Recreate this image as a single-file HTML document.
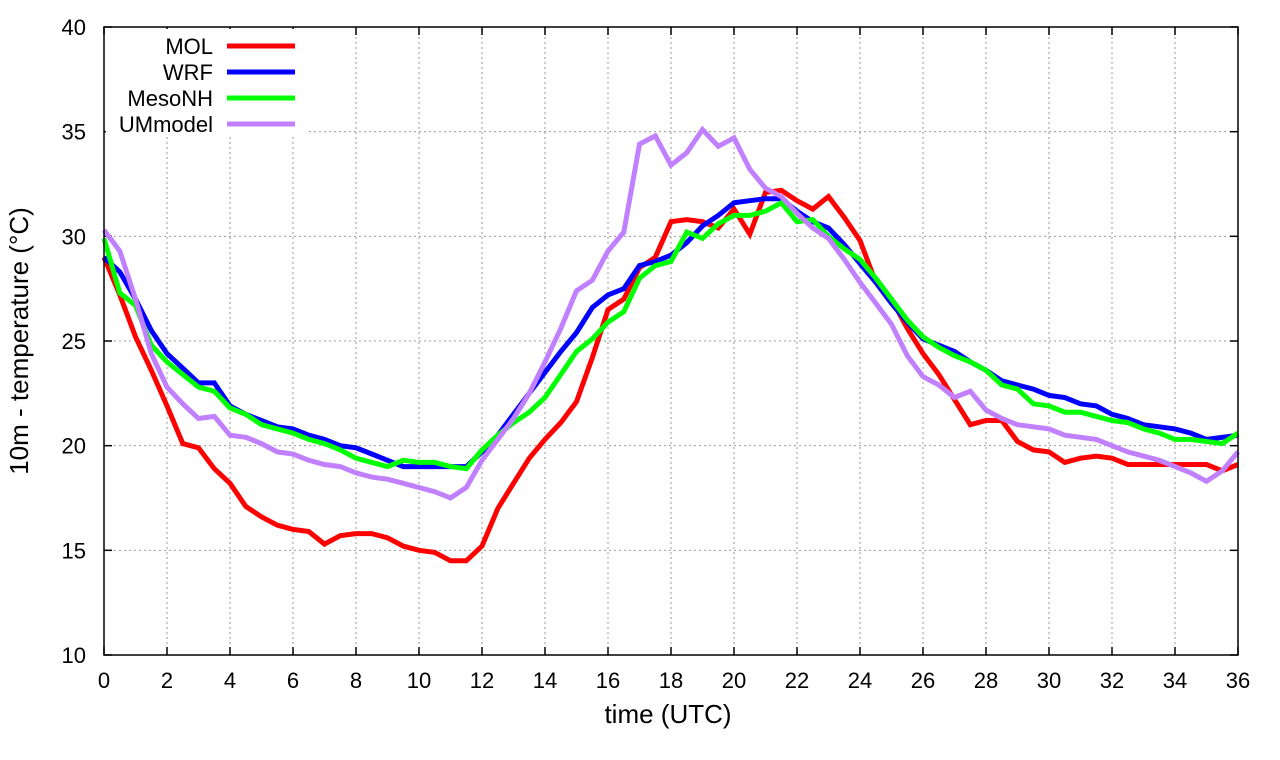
<!DOCTYPE html>
<html><head><meta charset="utf-8"><style>
html,body{margin:0;padding:0;background:#fff;}
svg{display:block;font-family:"Liberation Sans",sans-serif;}
</style></head><body>
<svg id="chart" width="1280" height="760" viewBox="0 0 1280 760" xmlns="http://www.w3.org/2000/svg">
<g id="grid"></g>
<g id="ticks"></g>
<g id="series"></g>
<rect x="104" y="27" width="1134" height="628" fill="none" stroke="#000" stroke-width="1.5"/>
<g id="legend"></g>
<text x="668" y="723" font-size="26" text-anchor="middle">time (UTC)</text>
<text transform="translate(28,341) rotate(-90)" font-size="26" text-anchor="middle">10m - temperature (°C)</text>
</svg>
<script>
const xTicks = [0,2,4,6,8,10,12,14,16,18,20,22,24,26,28,30,32,34,36];
const yTicks = [10,15,20,25,30,35,40];
const seriesNames = ["MOL","WRF","MesoNH","UMmodel"];
const seriesColors = ["#ff0000","#0000ff","#00ff00","#c080ff"];
const times = [];
for (let i = 0; i <= 72; i++) times.push(i / 2);
const mol = [29.0,27.2,25.2,23.6,21.9,20.1,19.9,18.9,18.2,17.1,16.6,16.2,16.0,15.9,15.3,15.7,15.8,15.8,15.6,15.2,15.0,14.9,14.5,14.5,15.2,17.0,18.2,19.4,20.3,21.1,22.1,24.2,26.5,27.0,28.5,29.0,30.7,30.8,30.7,30.4,31.3,30.1,32.1,32.2,31.7,31.3,31.9,30.9,29.8,27.8,27.0,25.6,24.4,23.4,22.2,21.0,21.2,21.2,20.2,19.8,19.7,19.2,19.4,19.5,19.4,19.1,19.1,19.1,19.1,19.1,19.1,18.8,19.1];
const wrf = [29.0,28.3,27.0,25.5,24.4,23.7,23.0,23.0,21.9,21.5,21.2,20.9,20.8,20.5,20.3,20.0,19.9,19.6,19.3,19.0,19.0,19.0,19.0,19.0,19.7,20.5,21.5,22.5,23.5,24.5,25.4,26.6,27.2,27.5,28.6,28.8,29.1,29.7,30.5,31.0,31.6,31.7,31.8,31.8,31.2,30.7,30.4,29.6,28.7,27.8,26.8,25.9,25.1,24.8,24.5,24.0,23.6,23.1,22.9,22.7,22.4,22.3,22.0,21.9,21.5,21.3,21.0,20.9,20.8,20.6,20.3,20.4,20.5];
const mesonh = [29.9,27.3,26.7,24.8,24.0,23.4,22.8,22.6,21.8,21.5,21.0,20.8,20.6,20.3,20.1,19.8,19.4,19.2,19.0,19.3,19.2,19.2,19.0,18.9,19.8,20.5,21.1,21.6,22.3,23.4,24.5,25.1,25.9,26.4,28.0,28.6,28.8,30.2,29.9,30.6,31.0,31.0,31.2,31.6,30.7,30.8,30.0,29.4,28.9,28.0,27.0,26.0,25.2,24.7,24.3,24.0,23.6,22.9,22.7,22.0,21.9,21.6,21.6,21.4,21.2,21.1,20.8,20.6,20.3,20.3,20.2,20.1,20.6];
const ummodel = [30.3,29.3,27.0,24.4,22.8,22.0,21.3,21.4,20.5,20.4,20.1,19.7,19.6,19.3,19.1,19.0,18.7,18.5,18.4,18.2,18.0,17.8,17.5,18.0,19.3,20.3,21.3,22.5,24.0,25.6,27.4,27.9,29.3,30.2,34.4,34.8,33.4,34.0,35.1,34.3,34.7,33.2,32.3,31.9,31.1,30.4,29.9,28.9,27.8,26.8,25.8,24.3,23.3,22.9,22.3,22.6,21.7,21.3,21.0,20.9,20.8,20.5,20.4,20.3,20.0,19.7,19.5,19.3,19.0,18.7,18.3,18.8,19.7];
const allSeries = [mol, wrf, mesonh, ummodel];

const NS = "http://www.w3.org/2000/svg";
const X0 = 104, X1 = 1238, Y0 = 655, Y1 = 27;
const xScale = t => X0 + (t - 0) / 36 * (X1 - X0);
const yScale = v => Y0 - (v - 10) / 30 * (Y0 - Y1);
function mk(tag, attrs, parent) {
  const e = document.createElementNS(NS, tag);
  for (const k in attrs) e.setAttribute(k, attrs[k]);
  parent.appendChild(e);
  return e;
}
const grid = document.getElementById('grid');
const ticks = document.getElementById('ticks');
xTicks.forEach(t => {
  const x = xScale(t);
  if (t > 0 && t < 36) {
    const g = mk('line', {x1:x, x2:x, y1:Y1, y2:Y0, stroke:'#999', 'stroke-width':1, 'stroke-dasharray':'2,3'}, grid);
    
    
  }
  const a = mk('line', {x1:x, x2:x, y1:Y0, y2:Y0-8, stroke:'#000', 'stroke-width':1.5}, ticks);
  
  
  const b = mk('line', {x1:x, x2:x, y1:Y1, y2:Y1+8, stroke:'#000', 'stroke-width':1.5}, ticks);
  
  
  const l = mk('text', {x:x, y:688, 'font-size':22, 'text-anchor':'middle'}, ticks);
  l.textContent = t;
  
  
});
yTicks.forEach(v => {
  const y = yScale(v);
  if (v > 10 && v < 40) {
    const g = mk('line', {x1:X0, x2:X1, y1:y, y2:y, stroke:'#999', 'stroke-width':1, 'stroke-dasharray':'2,3'}, grid);
    
    
  }
  const a = mk('line', {x1:X0, x2:X0+8, y1:y, y2:y, stroke:'#000', 'stroke-width':1.5}, ticks);
  
  
  const b = mk('line', {x1:X1, x2:X1-8, y1:y, y2:y, stroke:'#000', 'stroke-width':1.5}, ticks);
  
  
  const l = mk('text', {x:86, y:y+8, 'font-size':22, 'text-anchor':'end'}, ticks);
  l.textContent = v;
  
  
});
const seriesG = document.getElementById('series');
allSeries.forEach((vals, i) => {
  const pts = vals.map((v, j) => xScale(times[j]).toFixed(1) + ',' + yScale(v).toFixed(1)).join(' ');
  const p = mk('polyline', {points:pts, fill:'none', stroke:seriesColors[i], 'stroke-width':5, 'stroke-linejoin':'miter'}, seriesG);
  
  
});
const legend = document.getElementById('legend');
mk('rect', {x:106, y:29, width:200, height:108, fill:'#fff'}, legend);
seriesNames.forEach((n, i) => {
  const y = 46 + i * 26;
  const t = mk('text', {x:213, y:y+8, 'font-size':22, 'text-anchor':'end'}, legend);
  t.textContent = n;
  
  
  const l = mk('line', {x1:227, x2:295, y1:y, y2:y, stroke:seriesColors[i], 'stroke-width':5}, legend);
  
  
});
</script>
</body></html>
